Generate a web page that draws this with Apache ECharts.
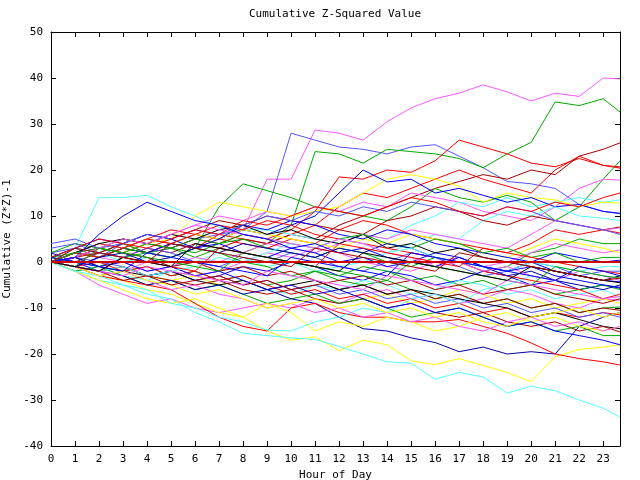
<!DOCTYPE html>
<html>
<head>
<meta charset="utf-8">
<script src="https://cdn.jsdelivr.net/npm/echarts@6/dist/echarts.min.js"></script>
<style>html,body{margin:0;padding:0;background:#fff}#c{width:640px;height:480px}</style>
</head>
<body>
<div id="c"></div>
<script>
// Hour positions (0..23 and the last sample at ~23.7)
const hours = [0,1,2,3,4,5,6,7,8,9,10,11,12,13,14,15,16,17,18,19,20,21,22,23,23.7];
const xTicks = [0,1,2,3,4,5,6,7,8,9,10,11,12,13,14,15,16,17,18,19,20,21,22,23];
const yTicks = [-40,-30,-20,-10,0,10,20,30,40,50];

// Cumulative (Z*Z)-1 traces, one value per entry in hours
const s01 = [0,2,1,3,2,4,3,5,7,18,18,28.7,28,26.5,30.5,33.5,35.5,36.7,38.5,37,35,36.7,36,40,39.8];
const s02 = [2,3,1,4,2,3,5,6,7,11,28,26.5,25,24.5,23.5,25,25.5,23,20.5,17.5,17,16,12.5,11,10.5];
const s03 = [1,3,2,4,2,3,1,3,2,4,8,24,23.5,21.5,24.5,24,23.5,22.5,20.5,23.5,26,34.8,34,35.5,32.6];
const s04 = [0,1,3,2,4,3,5,4,6,5,7,11,18.5,18,20,19.5,22,26.5,25,23.5,21.5,20.7,22.5,21,20.4];
const s05 = [0,2,1,3,2,4,3,6,5,4,6,8,12,15,14,16,18,20,18,16.5,15,20,23,21,20.7];
const s06 = [1,0,2,1,3,2,4,3,5,4,6,5,8,10,12,14,16,17.5,19,18,20,19,23,24.5,25.9];
const s07 = [1,0,-1,1,2,1,3,12,17,15.5,14,12,11,10,9,12,16,14,13,14.5,13,9,12,18,22];
const s08 = [0,2,3,5,4,6,8,10,9,11,10,12,11,13,12,15,14,13,11,10,9,12,16,18,17.8];
const s09 = [0,3,14,14,14.5,12,10,7.5,7,7,6,5,4,6,5,8,10,13,12,14,12,13,14,13,13.5];
const s10 = [0,1,3,2,4,5,10,13,12,11,10,11,12,15,18,19,18,16.5,13,15,14,13.5,12,13,12.8];
const s11 = [0,2,1,3,5,4,6,5,7,6,8,10,15,20,17.4,18,15,16,14.5,13,14,12,12.5,11,10.6];
const s12 = [1,3,2,0,1,-1,0,2,1,-1,0,-2,-1,0,2,4,6,5,9,11,10,12,10,9.5,9];
const s13 = [0,1,2,4,6,5,7,9,8,10,9,8,7,6,9,10,12,11,9,8,10,9,8,7,7.6];
const s14 = [0,-1,1,0,-2,-1,1,0,2,4,3,2,4,6,5,7,6,5,4,3,6,9,8,7,7.4];
const s15 = [0,2,4,3,5,7,6,5,4,3,5,4,7,9,8,6,5,4,3,2,4,7,6,7,6.3];
const s16 = [2,4,3,5,4,3,2,4,5,3,2,1,3,2,0,-1,1,0,-2,-1,2,3,5,4,4];
const s17 = [0,1,-1,-2,0,-1,-3,-2,0,2,1,3,2,0,-1,-2,0,1,-1,0,2,4,3,2,2.6];
const s18 = [0,2,1,3,5,4,6,5,7,6,5,4,3,5,4,6,5,4,2,1,3,5,4,3,2];
const s19 = [1,3,5,4,6,5,3,4,2,1,3,2,0,1,-1,0,2,1,-1,-2,0,2,1,0,0.4];
const s20 = [3,4,2,1,3,2,0,-1,1,0,2,1,-1,-2,0,2,1,-1,-3,-2,0,-1,-3,-2,-2];
const s21 = [0,-1,1,3,2,4,3,5,8,7,9,8,6,5,7,6,4,3,2,1,0,-2,-3,-4,-4.3];
const s22 = [2,0,-2,-1,-3,-2,-4,-3,-1,-2,0,-1,-3,-4,-2,-3,-5,-4,-2,-3,-5,-4,-6,-5,-5.7];
const s23 = [0,-1,-3,-2,-1,-3,-2,-4,-3,-5,-4,-2,-3,-1,-2,-4,-3,-5,-4,-6,-5,-7,-6,-5,-6];
const s24 = [0,-2,-1,-3,-4,-2,-3,-5,-4,-6,-7,-5,-6,-4,-5,-7,-6,-4,-5,-7,-6,-8,-7,-6,-7.6];
const s25 = [0,-2,-5,-7,-9,-8,-10,-11,-10,-9,-10,-8,-9,-7,-6,-8,-7,-9,-8,-6,-7,-9,-10,-8,-8.3];
const s26 = [0,-1,-2,-1,-3,-4,-3,-5,-4,-6,-5,-7,-6,-8,-7,-9,-8,-6,-7,-9,-8,-10,-9,-8,-9];
const s27 = [1,2,1,3,2,1,3,2,0,-1,-3,-2,-4,-5,-4,-6,-8,-7,-9,-8,-10,-9,-11,-10,-9.8];
const s28 = [0,1,3,2,1,-1,0,-2,-1,-3,-2,-4,-6,-5,-7,-6,-8,-7,-9,-8,-10,-9,-11,-10,-10.5];
const s29 = [0,-1,0,-2,-1,-3,-2,-4,-3,-5,-7,-6,-8,-7,-9,-8,-10,-9,-11,-10,-12,-11,-12,-11,-11.5];
const s30 = [0,1,0,-1,-3,-2,-4,-3,-5,-4,-6,-5,-7,-6,-8,-7,-9,-8,-10,-9,-11,-10,-12,-11,-12];
const s31 = [0,1,-1,-2,-3,-2,-4,-5,-4,-6,-5,-4,-6,-5,-7,-6,-7,-8,-9,-10,-12,-11,-12.5,-14,-14.5];
const s32 = [0,2,4,5,4,6,5,7,8,6,7,5,4,6,3,4,2,3,1,0,-1,-2,-3,-4,-3];
const s33 = [0,-1,-2,-1,-3,-4,-5,-4,-6,-7,-6,-8,-9,-8,-10,-9,-11,-12,-11,-13,-14,-13,-15,-14,-15.2];
const s34 = [0,-2,-1,-3,-5,-4,-6,-5,-7,-9,-8,-7,-9,-8,-10,-12,-11,-10,-12,-14,-13,-15,-14,-16,-16];
const s35 = [0,-1,-2,-3,-5,-4,-6,-5,-7,-6,-8,-9,-12,-14.5,-15,-16.5,-17.5,-19.5,-18.5,-20,-19.5,-20,-14,-12,-11];
const s36 = [0,-1,-3,-4,-6,-7,-9,-11,-12,-15,-17,-16.3,-19.3,-17,-18,-21.5,-22.3,-21,-22.5,-24,-26,-20.6,-19,-18.5,-18];
const s37 = [0,-1,-3,-4,-5,-6,-9,-12,-14,-15,-10,-9,-11,-12,-12,-13,-13,-12.5,-14,-15.5,-17.6,-20,-21,-21.7,-22.4];
const s38 = [0,-2,-4,-5,-7,-8,-11,-13,-15.5,-16,-16.5,-16.8,-18.4,-20,-21.7,-22,-25.5,-24,-25,-28.5,-27,-28,-30,-31.8,-33.7];
const s39 = [0,-2,-4,-6,-8,-9,-8,-10,-12,-9,-11,-15,-13,-14,-12,-13,-15,-14,-12,-11,-13,-12,-14,-15,-14];
const s40 = [0,-2,-3,-5,-6,-9,-10,-12,-13,-14.8,-15,-13,-12,-10,-11,-8,-7,-9,-6,-5,-3,-4,-2,-1,-1];
const s41 = [0,-1,-3,-2,-4,-6,-5,-7,-8,-10,-9,-11,-10,-12,-11,-13,-12,-14,-15,-13,-12,-14,-13,-15,-14];
const s42 = [0,2,1,3,5,4,6,8,7,9,8,6,5,4,3,2,1,0,-2,-3,-4,-5,-6,-8,-7];
const s43 = [0,1,-1,0,-2,-1,-3,-2,-4,-6,-5,-7,-6,-8,-10,-9,-11,-10,-12,-14,-13,-15,-16,-17,-18];
const s44 = [4,5,3,4,6,5,7,6,8,10,9,11,10,12,11,13,12,11,10,12,11,9,8,7,6];
const s45 = [0,2,3,2,4,3,5,4,6,5,4,3,5,6,4,3,5,4,2,3,1,2,0,1,1];
const s46 = [0,-1,1,2,0,1,3,2,4,3,2,1,3,2,4,3,1,0,-1,-3,-2,-4,-5,-6,-5];
const s47 = [1,3,5,4,3,5,7,6,9,8,10,12,11,10,12,14,13,11,10,12,11,13,12,14,15];
const s48 = [0,-1,-2,-1,-3,-2,-1,1,0,2,4,3,5,4,2,3,1,0,-1,-2,0,-1,-2,-3,-3.5];
const s49 = [0,-1,-3,-2,-4,-5,-7,-6,-8,-10,-9,-8,-10,-9,-11,-10,-12,-11,-13,-14,-12,-11,-10,-12,-11];
const s50 = [0,1,3,5,4,6,8,7,6,5,4,3,5,4,2,1,-1,0,-2,-1,-3,-4,-2,-3,-4];
const s51 = [0,-1,-2,-4,-3,-5,-4,-3,-5,-4,-6,-5,-4,-3,-5,-4,-6,-5,-7,-6,-5,-7,-8,-9,-8];
const s52 = [0,1,6,10,13,11,9,8,6,5,3,4,2,3,1,0,-1,1,-1,-2,-1,-3,-4,-5,-5.5];
const s53 = [0,-1,-2,1,0,-1,-2,3,2,1,0,-1,4,3,2,1,0,-1,3,2,1,0,-1,-2,-2.5];
const s54 = [1,0,-1,-2,2,1,0,-1,-2,-3,1,0,-1,-2,-3,2,1,0,-1,-2,-3,-4,-1,-2,-3];
const s55 = [0,-1,3,2,1,0,-1,-2,2,1,0,-1,-2,-3,-4,0,-1,-2,-3,-4,-5,-1,-2,-3,-3.5];
const s56 = [0,-1,-2,-3,-1,-2,-3,-4,-5,-2,-3,-4,-5,-6,-3,-4,-5,-6,-7,-4,-5,-6,-7,-8,-7.5];
const s57 = [0,-1,-2,1,0,-1,4,3,2,1,0,-1,-2,2,1,0,-1,-2,-3,-4,-1,-2,-3,-4,-4.5];
const s58 = [0,3,2,1,0,4,3,2,1,0,-1,3,2,1,0,-1,-2,2,1,0,-1,-2,-3,-4,-3.5];
const zeroLine = [0,0];

const traces = [s01,s02,s03,s04,s05,s06,s07,s08,s09,s10,s11,s12,s13,s14,s15,s16,s17,s18,s19,s20,
  s21,s22,s23,s24,s25,s26,s27,s28,s29,s30,s31,s32,s33,s34,s35,s36,s37,s38,s39,s40,
  s41,s42,s43,s44,s45,s46,s47,s48,s49,s50,s51,s52,s53,s54,s55,s56,s57,s58];
const traceColors = ['#ff55ff','#5555ff','#00aa00','#ff0000','#ff0000','#aa0000','#00aa00','#ff55ff','#55ffff','#ffff00',
  '#0000ff','#55ffff','#aa0000','#ff55ff','#ff0000','#00aa00','#ff55ff','#ffff00','#0000ff','#5555ff',
  '#0000ff','#0000ff','#00aa00','#55ffff','#ff55ff','#ffff00','#00aa00','#aa0000','#ff0000','#5555ff',
  '#000000','#000000','#aa0000','#00aa00','#0000aa','#ffff00','#ff0000','#55ffff','#ffff00','#55ffff',
  '#ff55ff','#ff0000','#0000ff','#5555ff','#00aa00','#0000aa','#ff0000','#55ffff','#ffff00','#ff55ff',
  '#aa0000','#0000ff','#ff0000','#0000ff','#00aa00','#ff55ff','#000000','#aa0000'];

const FONT = 'DejaVu Sans Mono';
const chart = echarts.init(document.getElementById('c'), null, {renderer: 'canvas'});
const series = traces.map((vals, i) => ({
  type: 'line',
  data: hours.map((h, j) => [h, vals[j]]),
  showSymbol: false,
  symbol: 'none',
  silent: true,
  lineStyle: {width: 1, color: traceColors[i]},
  z: 2
}));
series.push({
  type: 'line',
  data: [[0, zeroLine[0]], [23.7, zeroLine[1]]],
  showSymbol: false, symbol: 'none', silent: true,
  lineStyle: {width: 2, color: '#d00000'},
  z: 3
});

const tickStyle = {inside: true, length: 5, lineStyle: {color: '#000', width: 1}};
const axisLine = {show: true, onZero: false, lineStyle: {color: '#000', width: 1}};
const lbl = {color: '#000', fontFamily: FONT, fontSize: 11};

chart.setOption({
  animation: false,
  backgroundColor: '#fff',
  title: {
    text: 'Cumulative Z-Squared Value',
    left: 335, top: 9, padding: 0, textAlign: 'center',
    textStyle: {color: '#000', fontFamily: FONT, fontSize: 11, fontWeight: 'normal'}
  },
  grid: {left: 51, right: 20, top: 32, bottom: 34, containLabel: false, outerBoundsMode: 'none'},
  xAxis: [{
    type: 'value', min: 0, max: 23.7, interval: 1, position: 'bottom',
    name: 'Hour of Day', nameLocation: 'middle', nameGap: 19,
    nameTextStyle: lbl,
    axisLine: axisLine, axisTick: tickStyle, splitLine: {show: false},
    axisLabel: Object.assign({margin: 8, showMaxLabel: false,
      formatter: v => (xTicks.indexOf(v) >= 0 ? String(v) : '')}, lbl)
  }, {
    type: 'value', min: 0, max: 23.7, interval: 1, position: 'top',
    axisLine: axisLine, axisTick: tickStyle, splitLine: {show: false},
    axisLabel: {show: false}
  }],
  yAxis: [{
    type: 'value', min: -40, max: 50, interval: 10, position: 'left',
    name: 'Cumulative (Z*Z)-1', nameLocation: 'middle', nameGap: 32,
    nameTextStyle: lbl,
    axisLine: axisLine, axisTick: tickStyle, splitLine: {show: false},
    axisLabel: Object.assign({margin: 8, formatter: v => (yTicks.indexOf(v) >= 0 ? String(v) : '')}, lbl)
  }, {
    type: 'value', min: -40, max: 50, interval: 10, position: 'right',
    axisLine: axisLine, axisTick: tickStyle, splitLine: {show: false},
    axisLabel: {show: false}
  }],
  series: series
});
</script>
</body>
</html>
